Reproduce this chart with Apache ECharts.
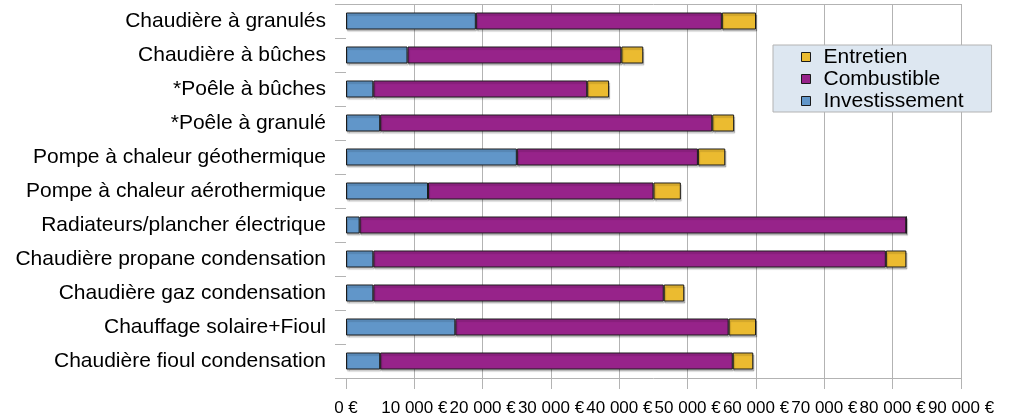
<!DOCTYPE html>
<html>
<head>
<meta charset="utf-8">
<script src="https://cdn.jsdelivr.net/npm/echarts@6/dist/echarts.min.js"></script>
<style>html,body{margin:0;padding:0;background:#fff}#c{width:1012px;height:419px}</style>
</head>
<body>
<div id="c"></div>
<script>
const categories = [
  "Chaudière à granulés",
  "Chaudière à bûches",
  "*Poêle à bûches",
  "*Poêle à granulé",
  "Pompe à chaleur géothermique",
  "Pompe à chaleur aérothermique",
  "Radiateurs/plancher électrique",
  "Chaudière propane condensation",
  "Chaudière gaz condensation",
  "Chauffage solaire+Fioul",
  "Chaudière fioul condensation"
];
const investissement = [19000, 9000, 4000, 5000, 25000, 12000, 2000, 4000, 4000, 16000, 5000];
const combustible    = [36000, 31300, 31300, 48600, 26500, 33000, 80000, 75000, 42500, 40000, 51600];
const entretien      = [5000, 3200, 3200, 3200, 4000, 4000, 0, 3000, 3000, 4000, 3000];
const xTicks = [0, 10000, 20000, 30000, 40000, 50000, 60000, 70000, 80000, 90000];

const FONT = "Liberation Sans";
const GRID = "#b3b3b3";
function fmt(v){ return v === 0 ? "0 €" : String(v).replace(/\B(?=(\d{3})+(?!\d))/g, " ") + " €"; }
function barStyle(color){
  return {color: color, borderColor: "#1a1a1a", borderWidth: 1,
          shadowColor: "rgba(0,0,0,0.22)", shadowOffsetX: 1, shadowOffsetY: 2, shadowBlur: 1};
}
const chart = echarts.init(document.getElementById("c"), null, {renderer: "canvas"});
chart.setOption({
  animation: false,
  backgroundColor: "#ffffff",
  textStyle: {fontFamily: FONT},
  grid: {left: 346, top: 4, width: 615, height: 374, containLabel: false},
  legend: {
    left: 773, top: 45, orient: "vertical",
    data: ["Entretien", "Combustible", "Investissement"],
    icon: "rect",
    backgroundColor: "#dde7f1", borderColor: GRID, borderWidth: 1, borderRadius: 0,
    padding: [1, 28, 0, 28], itemGap: 0, itemWidth: 9, itemHeight: 9,
    itemStyle: {borderColor: "#1a1a1a", borderWidth: 1, shadowColor: "transparent", shadowBlur: 0, shadowOffsetX: 0, shadowOffsetY: 0},
    textStyle: {fontFamily: FONT, fontSize: 21, color: "#000", lineHeight: 22, padding: [0, 0, 0, 8]}
  },
  xAxis: [{
    type: "value", min: xTicks[0], max: xTicks[xTicks.length - 1], interval: xTicks[1] - xTicks[0],
    axisLine: {show: true, lineStyle: {color: GRID, width: 1}},
    axisTick: {show: true, length: 11, lineStyle: {color: GRID}},
    splitLine: {show: true, showMinLine: false, lineStyle: {color: GRID, width: 1}},
    axisLabel: {fontFamily: FONT, fontSize: 17, color: "#000", margin: 22, formatter: fmt,
                hideOverlap: false, showMinLabel: true, showMaxLabel: true}
  }, {
    type: "value", position: "top", min: xTicks[0], max: xTicks[xTicks.length - 1],
    axisLine: {show: true, onZero: false, lineStyle: {color: GRID, width: 1}},
    axisTick: {show: false}, axisLabel: {show: false}, splitLine: {show: false}
  }],
  yAxis: {
    type: "category", data: categories, inverse: true,
    axisLine: {show: false},
    axisTick: {show: true, length: 11, lineStyle: {color: GRID}},
    splitLine: {show: false},
    axisLabel: {fontFamily: FONT, fontSize: 21, color: "#000", margin: 20, interval: 0}
  },
  series: [
    {name: "Investissement", type: "bar", stack: "t", barWidth: "50%", data: investissement, itemStyle: barStyle("#6196c9")},
    {name: "Combustible", type: "bar", stack: "t", barWidth: "50%", data: combustible, itemStyle: barStyle("#97238a")},
    {name: "Entretien", type: "bar", stack: "t", barWidth: "50%", data: entretien, itemStyle: barStyle("#ebbb30")}
  ]
});
</script>
</body>
</html>
